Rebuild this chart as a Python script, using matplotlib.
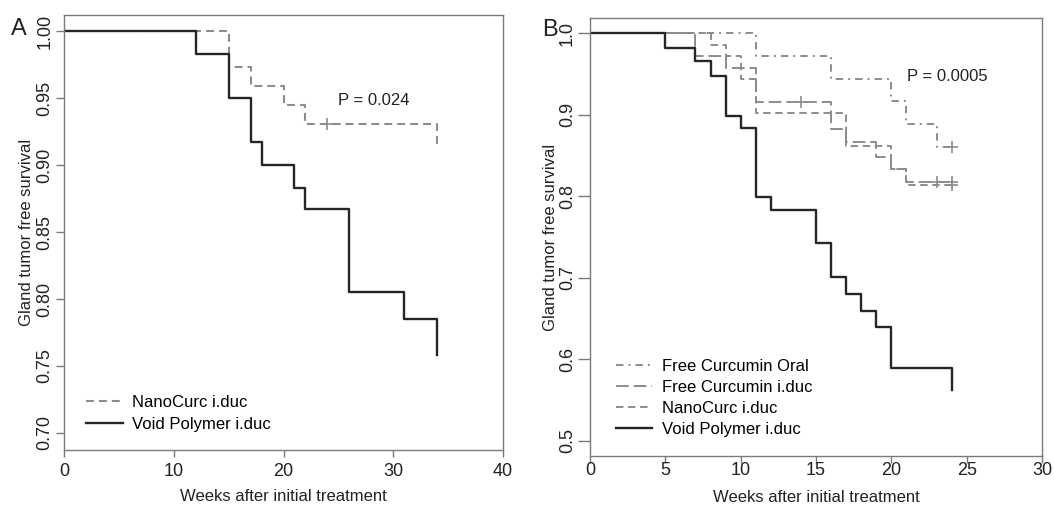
import matplotlib
matplotlib.use("Agg")
import matplotlib.pyplot as plt

plt.rcParams['font.family'] = ['Liberation Sans', 'DejaVu Sans']

# ---------------- Panel A data ----------------
a_void_t = [0, 12, 15, 17, 18, 21, 22, 26, 31, 34]
a_void_s = [1.0, 0.983, 0.950, 0.917, 0.900, 0.883, 0.867, 0.805, 0.785, 0.758]
a_nano_t = [0, 15, 17, 20, 22, 34]
a_nano_s = [1.0, 0.973, 0.959, 0.945, 0.931, 0.915]
a_nano_cens_t = [24]
a_nano_cens_s = [0.931]
a_yticks = [0.70, 0.75, 0.80, 0.85, 0.90, 0.95, 1.00]
a_xticks = [0, 10, 20, 30, 40]

# ---------------- Panel B data ----------------
b_oral_t = [0, 11, 16, 20, 21, 23, 24]
b_oral_s = [1.0, 0.972, 0.944, 0.917, 0.889, 0.861, 0.861]
b_oral_cens_t = [24]
b_oral_cens_s = [0.861]

b_fciduc_t = [0, 7, 9, 11, 16, 17, 19, 20, 21, 24]
b_fciduc_s = [1.0, 0.972, 0.958, 0.916, 0.883, 0.867, 0.848, 0.833, 0.818, 0.818]
b_fciduc_cens_t = [14, 23, 24]
b_fciduc_cens_s = [0.916, 0.818, 0.818]

b_nano_t = [0, 8, 9, 10, 11, 17, 20, 21, 24]
b_nano_s = [1.0, 0.986, 0.972, 0.944, 0.902, 0.862, 0.833, 0.814, 0.814]
b_nano_cens_t = [24]
b_nano_cens_s = [0.814]

b_void_t = [0, 5, 7, 8, 9, 10, 11, 12, 15, 16, 17, 18, 19, 20, 24]
b_void_s = [1.0, 0.982, 0.966, 0.948, 0.899, 0.884, 0.799, 0.783, 0.742,
            0.701, 0.680, 0.659, 0.640, 0.589, 0.562]
b_yticks = [0.5, 0.6, 0.7, 0.8, 0.9, 1.0]
b_xticks = [0, 5, 10, 15, 20, 25, 30]

GRAY = '#8c8c8c'
BLACK = '#262626'
AXC = '#7a7a7a'
TXT = '#222222'
FS = 12
TFS = 13

fig = plt.figure(figsize=(10.54, 5.09), dpi=100)
axA = fig.add_axes([64/1054, 1-450/509, 439/1054, 435/509])
axB = fig.add_axes([590/1054, 1-456/509, 452/1054, 438/509])


def style(ax, xt, yt, fmt, ylen, xpad, ypad, xlp, ylp):
    for sp in ax.spines.values():
        sp.set_color(AXC)
        sp.set_linewidth(1.0)
    ax.set_xticks(xt)
    ax.set_yticks(yt)
    ax.set_yticklabels([fmt.format(v) for v in yt], rotation=90, va='center')
    ax.tick_params(axis='both', colors=AXC, labelcolor=TXT,
                   labelsize=TFS, width=1.0, direction='out')
    ax.tick_params(axis='x', length=5, pad=xpad)
    ax.tick_params(axis='y', length=ylen, pad=ypad)
    ax.set_xlabel('Weeks after initial treatment', fontsize=FS, color=TXT,
                  labelpad=xlp)
    ax.set_ylabel('Gland tumor free survival', fontsize=FS, color=TXT,
                  labelpad=ylp)


# ---- Panel A ----
axA.step(a_nano_t, a_nano_s, where='post', color=GRAY, lw=1.5,
         dashes=(3.8, 2.4), label='NanoCurc i.duc')
axA.step(a_void_t, a_void_s, where='post', color=BLACK, lw=1.7,
         label='Void Polymer i.duc')
axA.plot(a_nano_cens_t, a_nano_cens_s, ls='none', marker='+', ms=8, mew=1.2,
         color=GRAY)
axA.set_xlim(0, 40)
axA.set_ylim(0.6873, 1.012)
style(axA, a_xticks, a_yticks, '{:.2f}', ylen=6, xpad=4.5, ypad=1.5,
      xlp=6, ylp=2)
axA.text(25.0, 0.9485, 'P = 0.024', fontsize=FS, ha='left', va='center',
         color=TXT)
axA.legend(loc='lower left', bbox_to_anchor=(0.035, 0.027), frameon=False,
           fontsize=FS, handlelength=2.2, handletextpad=0.55,
           labelspacing=0.42, borderaxespad=0)
axA.text(-0.102, 0.968, 'A', transform=axA.transAxes, fontsize=17,
         ha='center', va='center', color=TXT)

# ---- Panel B ----
axB.step(b_oral_t, b_oral_s, where='post', color=GRAY, lw=1.4,
         dashes=(3.8, 2.6, 1.0, 2.6), label='Free Curcumin Oral')
axB.step(b_fciduc_t, b_fciduc_s, where='post', color=GRAY, lw=1.4,
         dashes=(6.5, 2.6), label='Free Curcumin i.duc')
axB.step(b_nano_t, b_nano_s, where='post', color=GRAY, lw=1.4,
         dashes=(3.8, 2.4), label='NanoCurc i.duc')
axB.step(b_void_t, b_void_s, where='post', color=BLACK, lw=1.7,
         label='Void Polymer i.duc')
for ct, cs in [(b_oral_cens_t, b_oral_cens_s),
               (b_fciduc_cens_t, b_fciduc_cens_s),
               (b_nano_cens_t, b_nano_cens_s)]:
    axB.plot(ct, cs, ls='none', marker='+', ms=8, mew=1.2, color=GRAY)
axB.set_xlim(0, 30)
axB.set_ylim(0.481, 1.0188)
style(axB, b_xticks, b_yticks, '{:.1f}', ylen=8.5, xpad=-1, ypad=1.5,
      xlp=8, ylp=1)
axB.text(21.05, 0.9467, 'P = 0.0005', fontsize=FS, ha='left', va='center',
         color=TXT)
axB.legend(loc='lower left', bbox_to_anchor=(0.042, 0.029), frameon=False,
           fontsize=FS, handlelength=2.2, handletextpad=0.6,
           labelspacing=0.36, borderaxespad=0)
axB.text(-0.088, 0.972, 'B', transform=axB.transAxes, fontsize=17,
         ha='center', va='center', color=TXT)

fig.savefig('out.png', dpi=100)
